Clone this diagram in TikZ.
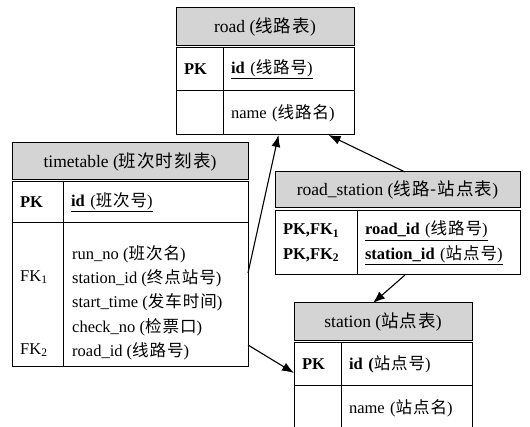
\documentclass[tikz,border=0pt]{standalone}
\usepackage{fontspec}
\setmainfont{Liberation Serif}
\newfontfamily\cjk[LetterSpace=6]{Noto Sans CJK SC}
\newcommand\zh[1]{{\cjk #1}}
\newcommand\headsize{\fontsize{17.5}{20}\selectfont}
\newcommand\bodysize{\fontsize{16.5}{24.4}\selectfont}
\usetikzlibrary{arrows.meta}
\definecolor{headgray}{RGB}{212,212,212}

\tikzset{
  tblhead/.style 2 args={draw, line width=1pt, fill=headgray, anchor=north west,
    inner sep=0pt, outer sep=0pt, minimum width=#1, minimum height=#2, font=\headsize},
  cell/.style 2 args={draw, line width=1pt, anchor=north west, inner xsep=8pt,
    inner ysep=0pt, outer sep=0pt, text width=#1, minimum height=#2, align=left,
    font=\bodysize},
  list/.style={anchor=north west, inner sep=0pt, align=left, font=\bodysize},
  fk/.style={draw, line width=1.1pt, -{Latex[length=12pt,width=9pt]}}
}

\begin{document}
\begin{tikzpicture}[x=1pt, y=-1pt]
  \useasboundingbox (0,0) rectangle (530,427);

  % road
  \node[tblhead={178pt}{38pt}] (road-head) at (176,8) {road (\zh{线路表})};
  \node[cell={31pt}{43pt}] (road-pk) at ([yshift=-2pt]road-head.south west) {\textbf{PK}};
  \node[cell={115pt}{43pt}] (road-id) at (road-pk.north east) {\underline{\textbf{id} (\zh{线路号})}};
  \node[cell={31pt}{44pt}] (road-nokey) at (road-pk.south west) {};
  \node[cell={115pt}{44pt}] (road-name) at (road-pk.south east) {name (\zh{线路名})};

  % timetable
  \node[tblhead={236pt}{37pt}] (tt-head) at (12,143) {timetable (\zh{班次时刻表})};
  \node[cell={35pt}{41pt}] (tt-pk) at ([yshift=-2pt]tt-head.south west) {\textbf{PK}};
  \node[cell={169pt}{41pt}] (tt-id) at (tt-pk.north east) {\underline{\textbf{id} (\zh{班次号})}};
  \node[cell={35pt}{144pt}] (tt-keys) at (tt-pk.south west) {};
  \node[cell={169pt}{144pt}] (tt-more) at (tt-pk.south east) {};
  \node[list] (tt-fklist) at ([xshift=8pt,yshift=-22pt]tt-keys.north west)
    {\vphantom{(}\\FK\textsubscript{1}\\\vphantom{(}\\\vphantom{(}\\FK\textsubscript{2}};
  \node[list] (tt-fields) at ([xshift=9pt,yshift=-22pt]tt-more.north west)
    {run\_no (\zh{班次名})\\station\_id (\zh{终点站号})\\start\_time (\zh{发车时间})\\
     check\_no (\zh{检票口})\\road\_id (\zh{线路号})};

  % road_station
  \node[tblhead={245pt}{36pt}] (rs-head) at (275,172) {road\_station (\zh{线路-站点表})};
  \node[cell={66pt}{64pt}] (rs-keys) at ([yshift=-3pt]rs-head.south west)
    {\textbf{PK,FK\textsubscript{1}}\\\textbf{PK,FK\textsubscript{2}}};
  \node[cell={147pt}{64pt}] (rs-fields) at (rs-keys.north east)
    {\underline{\textbf{road\_id} (\zh{线路号})}\\\underline{\textbf{station\_id} (\zh{站点号})}};

  % station
  \node[tblhead={178pt}{38pt}] (st-head) at (294,303) {station (\zh{站点表})};
  \node[cell={31pt}{43pt}] (st-pk) at ([yshift=-2pt]st-head.south west) {\textbf{PK}};
  \node[cell={115pt}{43pt}] (st-id) at (st-pk.north east) {\textbf{id (}\zh{站点号})};
  \node[cell={31pt}{44pt}] (st-nokey) at (st-pk.south west) {};
  \node[cell={115pt}{44pt}] (st-name) at (st-pk.south east) {name (\zh{站点名})};

  % foreign keys
  \draw[fk] ([yshift=22pt]tt-more.east) -- ([xshift=-10pt]road-name.south);
  \draw[fk] ([xshift=7.5pt]rs-head.north) -- ([xshift=40pt]road-name.south);
  \draw[fk] ([xshift=-33.5pt]rs-fields.south) -- ([xshift=-10pt]st-head.north);
  \draw[fk] ([yshift=-50pt]tt-more.east) -- ([yshift=-8.5pt]st-pk.west);
\end{tikzpicture}
\end{document}
